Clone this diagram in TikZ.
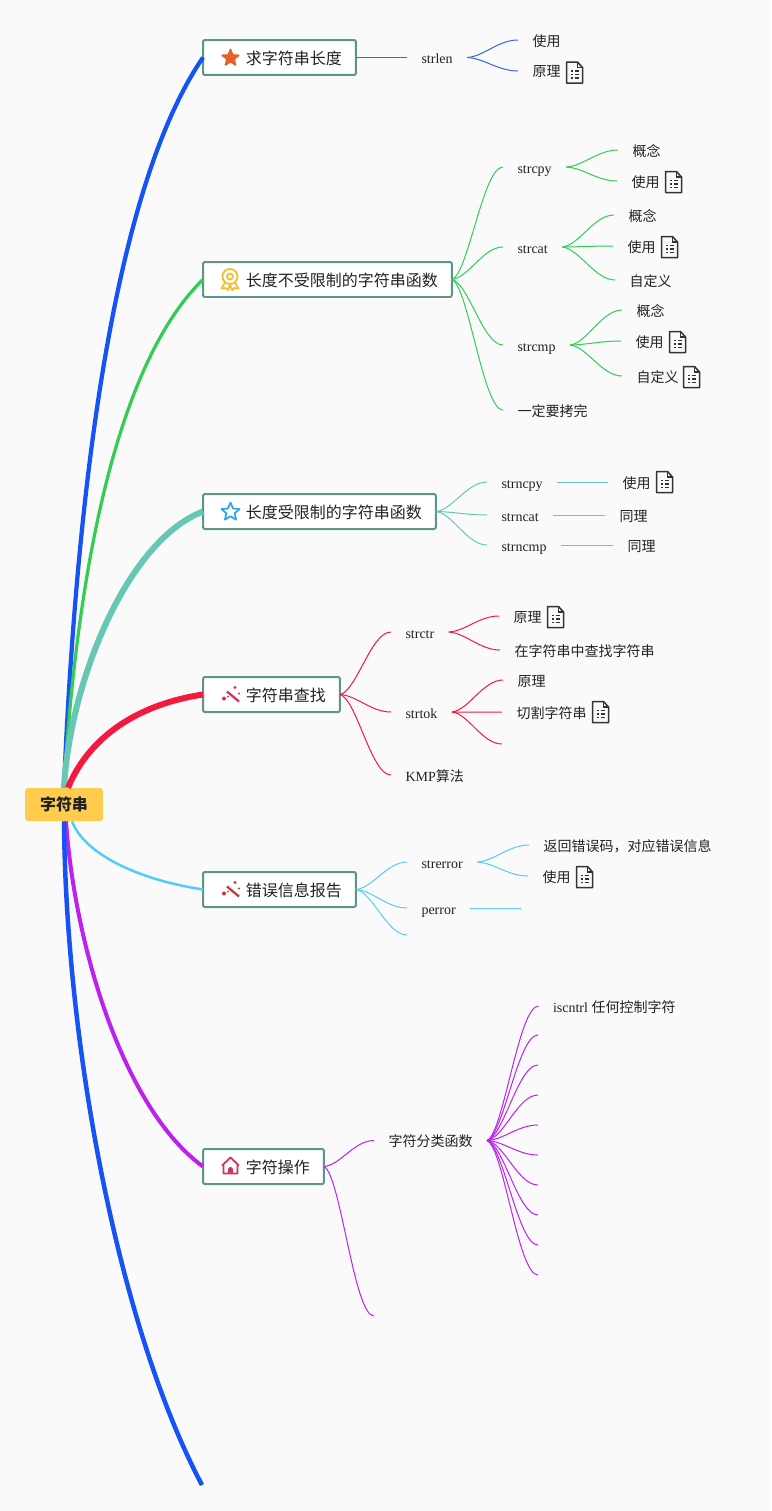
\documentclass[tikz,border=0pt]{standalone}
\usepackage{fontspec}
\setmainfont{Liberation Serif}
\newfontfamily\cjk{Noto Sans CJK SC}
\usetikzlibrary{shapes,shapes.geometric,calc}

\definecolor{pagebg}{HTML}{FAFAFB}
\definecolor{rootfill}{HTML}{FFCC4D}
\definecolor{boxline}{HTML}{5B9688}
\definecolor{txt}{HTML}{222222}
\definecolor{cblue}{HTML}{1553F5}
\definecolor{cgreen}{HTML}{33CC55}
\definecolor{cteal}{HTML}{66C7B4}
\definecolor{cred}{HTML}{F5193F}
\definecolor{ccyan}{HTML}{55CCF5}
\definecolor{cpurple}{HTML}{BB22EE}
\definecolor{thinblue}{HTML}{3568DC}
\definecolor{iconorange}{HTML}{E4622B}
\definecolor{iconyellow}{HTML}{F5C02C}
\definecolor{iconblue}{HTML}{3BA7E0}
\definecolor{iconpink}{HTML}{E4285C}
\definecolor{iconbrick}{HTML}{C8392B}
\definecolor{iconrose}{HTML}{D2345A}

\begin{document}
\begin{tikzpicture}[
	x=.02cm, y=-.02cm, text=txt,
	rootbox/.style={fill=rootfill,rounded corners=.06cm,minimum width=1.56cm,minimum height=.66cm,inner sep=0,font=\fontsize{9.1}{11}\selectfont\cjk\bfseries},
	topic/.style={anchor=west,draw=boxline,fill=white,line width=.04cm,rounded corners=.04cm,outer sep=0,minimum height=.7cm,inner xsep=.28cm,inner ysep=0,text height=.3cm,text depth=.04cm,font=\fontsize{9.1}{11}\selectfont\cjk},
	sub/.style={anchor=west,inner xsep=.29cm,inner ysep=0,outer sep=0,text height=.28cm,text depth=.04cm,font=\fontsize{7.97}{9.5}\selectfont},
	leaf/.style={sub,font=\fontsize{7.97}{9.5}\selectfont\cjk},
	trunk/.style={line width=#1},
	link/.style={draw=#1,line width=.02cm},
	curve/.style={to path={.. controls ($(\tikztostart)!.05!(\tikztotarget)+(14,0)$) and ($(\tikztotarget)+(-20,0)$) .. (\tikztotarget) \tikztonodes}},
	pics/docicon/.style={code={
		\draw[line width=.03cm,draw=black!80,line join=round] (-8,-10.5) -- (3,-10.5) -- (8,-5) -- (8,10.5) -- (-8,10.5) -- cycle;
		\draw[line width=.024cm,draw=black!80] (3,-10.5) -- (3,-5) -- (8,-5);
		\draw[line width=.03cm,draw=black!80] (-3.5,-1.5) -- (-2,-1.5) (0,-1.5) -- (4.5,-1.5) (-3.5,2) -- (-2,2) (0,2) -- (4.5,2) (-3.5,5.5) -- (-2,5.5) (0,5.5) -- (4.5,5.5);
	}},
	pics/wandicon/.style={code={
		\draw[line width=.045cm,draw=#1] (-4,-3) -- (8,7);
		\fill[#1] (4,-7) circle (1.7) (-7,4) circle (2) (8,-1) circle (1.1) (-3,2) circle (1);
	}},
	pics/badgeicon/.style={code={
		\draw[line width=.036cm,draw=#1] (0,-3) circle (7.5) (0,-3) circle (3);
		\draw[line width=.036cm,draw=#1,line join=round] (-5,3) -- (-8.5,9) -- (-4.5,8.5) -- (-2,10.5) -- (0,5) -- (2,10.5) -- (4.5,8.5) -- (8.5,9) -- (5,3);
	}},
	pics/houseicon/.style={code={
		\draw[line width=.036cm,draw=#1,line join=round] (-8.5,-1) -- (0,-9) -- (8.5,-1) (-7,-2) -- (-7,7) -- (7,7) -- (7,-2);
		\fill[#1] (-2.5,7) -- (-2.5,3) arc[start angle=180,end angle=360,radius=2.5] -- (2.5,7) -- cycle;
	}}
	]
	\useasboundingbox (0,0) rectangle (771,1511);
	\fill[pagebg] (0,0) rectangle (771,1511);

	\node [rootbox] (root) at (64,804.5) {字符串};
	\node [topic] (len) at (203,57.5) {\hspace{.58cm}求字符串长度};
	\node [topic] (nolimit) at (203,279.5) {\hspace{.58cm}长度不受限制的字符串函数};
	\node [topic] (limit) at (203,511.5) {\hspace{.58cm}长度受限制的字符串函数};
	\node [topic] (search) at (203,694.5) {\hspace{.58cm}字符串查找};
	\node [topic] (errinfo) at (203,889.5) {\hspace{.58cm}错误信息报告};
	\node [topic] (charop) at (203,1166.5) {\hspace{.58cm}字符操作};
	\coordinate (tail) at (202,1485);

	\node [star,star points=5,star point ratio=2.3,fill=iconorange,draw=iconorange,line join=round,line width=.03cm,inner sep=0,minimum size=.35cm] (lenstar) at (230.5,58) {};
	\pic (nolimitbadge) at ([xshift=.54cm]nolimit.west) {badgeicon={iconyellow}};
	\node [star,star points=5,star point ratio=2.2,draw=iconblue,line join=round,line width=.036cm,inner sep=0,minimum size=.38cm] (limitstar) at (230.5,512) {};
	\pic (searchwand) at ([xshift=.56cm]search.west) {wandicon={iconpink}};
	\pic (errwand) at ([xshift=.56cm]errinfo.west) {wandicon={iconbrick}};
	\pic (charhouse) at ([xshift=.55cm]charop.west) {houseicon={iconrose}};

	\node [sub] (strlen) at (407,57.5) {strlen};
	\node [leaf] (lenuse) at (518,40) {使用};
	\node [leaf] (lenwhy) at (518,71) {原理};
	\pic (lenwhydoc) at (574.5,72.5) {docicon};

	\node [sub] (strcpy) at (503,167) {strcpy};
	\node [leaf] (cpyidea) at (618,150) {概念};
	\node [leaf] (cpyuse) at (617,181) {使用};
	\pic (cpyusedoc) at (673.5,182) {docicon};
	\node [sub] (strcat) at (503,247) {strcat};
	\node [leaf] (catidea) at (614,215) {概念};
	\node [leaf] (catuse) at (613,246) {使用};
	\pic (catusedoc) at (669.5,247) {docicon};
	\node [leaf] (catself) at (615,280) {自定义};
	\node [sub] (strcmp) at (503,345) {strcmp};
	\node [leaf] (cmpidea) at (622,310) {概念};
	\node [leaf] (cmpuse) at (621,341) {使用};
	\pic (cmpusedoc) at (677.5,342) {docicon};
	\node [leaf] (cmpself) at (622,376) {自定义};
	\pic (cmpselfdoc) at (691.5,377) {docicon};
	\node [leaf] (fullcopy) at (503,410) {一定要拷完};

	\node [sub] (strncpy) at (487,482) {strncpy};
	\node [leaf] (ncpyuse) at (608,482) {使用};
	\pic (ncpyusedoc) at (664.5,482) {docicon};
	\node [sub] (strncat) at (487,515) {strncat};
	\node [leaf] (ncatsame) at (605,515) {同理};
	\node [sub] (strncmp) at (487,545) {strncmp};
	\node [leaf] (ncmpsame) at (613,545) {同理};

	\node [sub] (strctr) at (391,632) {strctr};
	\node [leaf] (ctrwhy) at (499,616) {原理};
	\pic (ctrwhydoc) at (555.5,617) {docicon};
	\node [leaf] (ctrfind) at (500,650) {在字符串中查找字符串};
	\node [sub] (strtok) at (391,712) {strtok};
	\node [leaf] (tokwhy) at (503,680) {原理};
	\node [leaf] (tokcut) at (502,712) {切割字符串};
	\pic (tokcutdoc) at (600.5,712) {docicon};
	\coordinate (tokend) at (502,744);
	\node [sub] (kmp) at (391,775) {KMP{\cjk 算法}};

	\node [sub] (strerror) at (407,862) {strerror};
	\node [leaf] (errret) at (529,845) {返回错误码，对应错误信息};
	\node [leaf] (erruse) at (528,876) {使用};
	\pic (errusedoc) at (584.5,877) {docicon};
	\node [sub] (perror) at (407,908) {perror};
	\coordinate (perrorend) at (521,908);
	\coordinate (errend) at (407,935);

	\node [leaf] (classify) at (374,1140.5) {字符分类函数};
	\coordinate (opend) at (374,1316);
	\node [sub] (iscntrl) at (538.5,1006) {iscntrl {\cjk 任何控制字符}};
	\coordinate (cls2) at (538,1035);
	\coordinate (cls3) at (538,1065);
	\coordinate (cls4) at (538,1095);
	\coordinate (cls5) at (538,1125);
	\coordinate (cls6) at (538,1155);
	\coordinate (cls7) at (538,1185);
	\coordinate (cls8) at (538,1215);
	\coordinate (cls9) at (538,1245);
	\coordinate (cls10) at (538,1275);

	\draw [trunk=.085cm,cblue] (root.north) .. controls (76,500) and (112,190) .. (len.west);
	\draw [trunk=.065cm,cgreen] (root.north) .. controls (75,600) and (110,370) .. (nolimit.west);
	\draw [trunk=.12cm,cteal] (root.north) .. controls (70,680) and (128,540) .. (limit.west);
	\draw [trunk=.12cm,cred] ([xshift=.08cm]root.north) .. controls (90,735) and (140,704) .. (search.west);
	\draw [trunk=.05cm,ccyan] ([xshift=.16cm]root.south) .. controls (85,855) and (140,880) .. (errinfo.west);
	\draw [trunk=.08cm,cpurple] ([xshift=.04cm]root.south) .. controls (75,950) and (125,1110) .. (charop.west);
	\draw [trunk=.09cm,cblue] (root.south) .. controls (66,1050) and (120,1330) .. (tail);

	\draw [link=thinblue] (len.east) -- (strlen.west);
	\draw [link=thinblue] (strlen.east) to[curve] (lenuse.west);
	\draw [link=thinblue] (strlen.east) to[curve] (lenwhy.west);

	\draw [link=cgreen] (nolimit.east) to[curve] (strcpy.west);
	\draw [link=cgreen] (nolimit.east) to[curve] (strcat.west);
	\draw [link=cgreen] (nolimit.east) to[curve] (strcmp.west);
	\draw [link=cgreen] (nolimit.east) to[curve] (fullcopy.west);
	\draw [link=cgreen] (strcpy.east) to[curve] (cpyidea.west);
	\draw [link=cgreen] (strcpy.east) to[curve] (cpyuse.west);
	\draw [link=cgreen] (strcat.east) to[curve] (catidea.west);
	\draw [link=cgreen] (strcat.east) to[curve] (catuse.west);
	\draw [link=cgreen] (strcat.east) to[curve] (catself.west);
	\draw [link=cgreen] (strcmp.east) to[curve] (cmpidea.west);
	\draw [link=cgreen] (strcmp.east) to[curve] (cmpuse.west);
	\draw [link=cgreen] (strcmp.east) to[curve] (cmpself.west);

	\draw [link=cteal] (limit.east) to[curve] (strncpy.west);
	\draw [link=cteal] (limit.east) to[curve] (strncat.west);
	\draw [link=cteal] (limit.east) to[curve] (strncmp.west);
	\draw [link=cteal] (strncpy.east) -- (ncpyuse.west);
	\draw [link=cteal] (strncat.east) -- (ncatsame.west);
	\draw [link=cteal] (strncmp.east) -- (ncmpsame.west);

	\draw [link=cred] (search.east) to[curve] (strctr.west);
	\draw [link=cred] (search.east) to[curve] (strtok.west);
	\draw [link=cred] (search.east) to[curve] (kmp.west);
	\draw [link=cred] (strctr.east) to[curve] (ctrwhy.west);
	\draw [link=cred] (strctr.east) to[curve] (ctrfind.west);
	\draw [link=cred] (strtok.east) to[curve] (tokwhy.west);
	\draw [link=cred] (strtok.east) to[curve] (tokcut.west);
	\draw [link=cred] (strtok.east) to[curve] (tokend);

	\draw [link=ccyan] (errinfo.east) to[curve] (strerror.west);
	\draw [link=ccyan] (errinfo.east) to[curve] (perror.west);
	\draw [link=ccyan] (errinfo.east) to[curve] (errend);
	\draw [link=ccyan] (strerror.east) to[curve] (errret.west);
	\draw [link=ccyan] (strerror.east) to[curve] (erruse.west);
	\draw [link=ccyan] (perror.east) -- (perrorend);

	\draw [link=cpurple] (charop.east) to[curve] (classify.west);
	\draw [link=cpurple] (charop.east) to[curve] (opend);
	\draw [link=cpurple] (classify.east) to[curve] (iscntrl.west);
	\draw [link=cpurple] (classify.east) to[curve] (cls2);
	\draw [link=cpurple] (classify.east) to[curve] (cls3);
	\draw [link=cpurple] (classify.east) to[curve] (cls4);
	\draw [link=cpurple] (classify.east) to[curve] (cls5);
	\draw [link=cpurple] (classify.east) to[curve] (cls6);
	\draw [link=cpurple] (classify.east) to[curve] (cls7);
	\draw [link=cpurple] (classify.east) to[curve] (cls8);
	\draw [link=cpurple] (classify.east) to[curve] (cls9);
	\draw [link=cpurple] (classify.east) to[curve] (cls10);
\end{tikzpicture}
\end{document}
